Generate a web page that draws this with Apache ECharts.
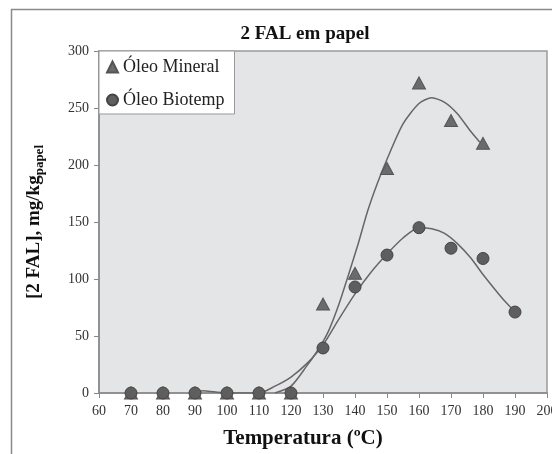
<!DOCTYPE html>
<html>
<head>
<meta charset="utf-8">
<script src="https://cdn.jsdelivr.net/npm/echarts@6/dist/echarts.min.js"></script>
<style>
  html, body { margin: 0; padding: 0; background: #fff; }
  #chart { width: 552px; height: 454px; }
</style>
</head>
<body>
<div id="chart"></div>
<script>
// measured points
const temps = [70, 80, 90, 100, 110, 120, 130, 140, 150, 160, 170, 180, 190]
const mineral = [0, 0, 0, 0, 0, 0, 78, 105, 197, 272, 239, 219]
const biotemp = [0, 0, 0, 0, 0, 0, 39.5, 93, 121, 145, 127, 118, 71]

// fitted curves
const mineralCurveX = [115, 120, 125, 128, 130, 132, 135, 138, 141, 144, 147, 150, 155, 160, 164, 168, 172, 176, 179]
const mineralCurveY = [0, 6, 24, 36, 45, 56, 78, 104, 131, 160, 184, 205, 236, 254, 259, 255, 245, 230, 220]
const biotempCurveX = [90, 92.5, 96, 100, 110, 115, 120, 125, 130, 135, 140, 145, 150, 155, 160, 164, 168, 172, 176, 180, 184, 187, 189.4]
const biotempCurveY = [0, 2, 1, 0, 0, 6, 14, 26, 42, 65, 87, 106, 122, 136, 145, 144, 140, 131, 119, 104, 90, 80, 73]

const xTicks = { min: 60, max: 200, interval: 10 }
const yTicks = { min: 0, max: 300, interval: 50 }

const pair = (xs, ys) => ys.map((v, i) => [xs[i], v])

const serif = '"Liberation Serif", "DejaVu Serif", serif'

const chart = echarts.init(document.getElementById('chart'))

const option = {
  backgroundColor: '#fff',
  animation: false,
  graphic: [
    {
      type: 'rect',
      silent: true,
      z: -10,
      shape: { x: 11.5, y: 9.5, width: 700, height: 600 },
      style: { fill: '#fff', stroke: '#8a8a8a', lineWidth: 1.5 }
    }
  ],
  title: {
    text: '2 FAL em papel',
    left: 300,
    top: 20,
    textAlign: 'center',
    textStyle: { fontFamily: serif, fontSize: 19, fontWeight: 'bold', color: '#111' }
  },
  legend: {
    orient: 'vertical',
    left: 99,
    top: 51,
    padding: [6, 10, 4, 7],
    itemGap: 13,
    itemWidth: 11,
    itemHeight: 11,
    backgroundColor: '#fff',
    borderColor: '#999',
    borderWidth: 1,
    borderRadius: 0,
    textStyle: { fontFamily: serif, fontSize: 18, lineHeight: 20, color: '#222' },
    data: [
      { name: 'Óleo Mineral', icon: 'triangle', itemStyle: { color: '#6b6b6b' } },
      { name: 'Óleo Biotemp', icon: 'circle', itemStyle: { color: '#5e5e5e' } }
    ]
  },
  grid: {
    left: 99,
    top: 51,
    right: 5,
    bottom: 61,
    outerBoundsMode: 'none',
    show: true,
    backgroundColor: '#e4e5e7',
    borderColor: '#9a9a9a',
    borderWidth: 1.5
  },
  xAxis: {
    type: 'value',
    min: xTicks.min,
    max: xTicks.max,
    interval: xTicks.interval,
    name: 'Temperatura (ºC)',
    nameLocation: 'middle',
    nameGap: 35,
    nameTextStyle: { fontFamily: serif, fontSize: 21, fontWeight: 'bold', color: '#111', padding: [0, 40, 0, 0] },
    axisLine: { lineStyle: { color: '#888', width: 1.5 } },
    axisTick: { show: true, length: 5, lineStyle: { color: '#888' } },
    axisLabel: { fontFamily: serif, fontSize: 14, color: '#333', margin: 11 },
    splitLine: { show: false }
  },
  yAxis: {
    type: 'value',
    min: yTicks.min,
    max: yTicks.max,
    interval: yTicks.interval,
    name: '{a|[2 FAL], mg/kg}{b|papel}',
    nameLocation: 'middle',
    nameRotate: 90,
    nameGap: 53,
    nameTextStyle: {
      rich: {
        a: { fontFamily: serif, fontSize: 19, fontWeight: 'bold', color: '#111', lineHeight: 24, verticalAlign: 'middle' },
        b: { fontFamily: serif, fontSize: 13, fontWeight: 'bold', color: '#111', lineHeight: 24, verticalAlign: 'bottom' }
      }
    },
    axisLine: { show: true, lineStyle: { color: '#888', width: 1.5 } },
    axisTick: { show: true, length: 5, lineStyle: { color: '#888' } },
    axisLabel: { fontFamily: serif, fontSize: 14, color: '#333', margin: 10 },
    splitLine: { show: false }
  },
  series: [
    {
      type: 'line',
      data: pair(mineralCurveX, mineralCurveY),
      smooth: 0.25,
      showSymbol: false,
      silent: true,
      lineStyle: { color: '#666', width: 1.5 },
      z: 2
    },
    {
      type: 'line',
      data: pair(biotempCurveX, biotempCurveY),
      smooth: 0.25,
      showSymbol: false,
      silent: true,
      lineStyle: { color: '#666', width: 1.5 },
      z: 2
    },
    {
      name: 'Óleo Mineral',
      type: 'scatter',
      symbol: 'triangle',
      symbolSize: [13, 12],
      data: pair(temps, mineral),
      itemStyle: { color: '#6b6b6b', borderColor: '#555', borderWidth: 1, opacity: 1 },
      z: 3
    },
    {
      name: 'Óleo Biotemp',
      type: 'scatter',
      symbol: 'circle',
      symbolSize: 12,
      data: pair(temps, biotemp),
      itemStyle: { color: '#5e5e5e', borderColor: '#444', borderWidth: 1, opacity: 1 },
      z: 4
    }
  ]
}

chart.setOption(option)
</script>
</body>
</html>
